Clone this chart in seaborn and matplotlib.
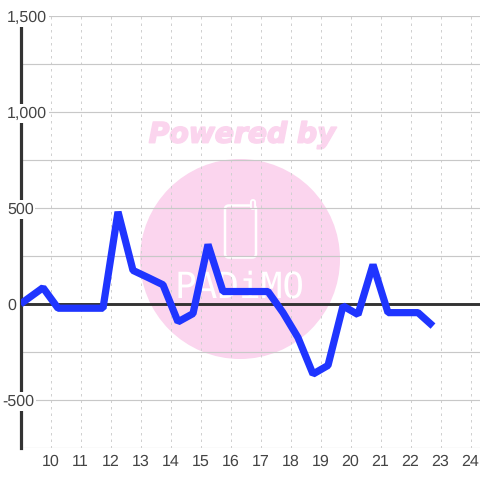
import matplotlib
matplotlib.use("Agg")
import matplotlib.pyplot as plt
import matplotlib.patheffects as pe
import pandas as pd
import seaborn as sns
from matplotlib.patches import Circle, FancyBboxPatch

# half hour readings
hours = [9.0, 9.75, 10.25, 10.75, 11.25, 11.75, 12.25, 12.75, 13.25, 13.75, 14.25,
         14.75, 15.25, 15.75, 16.25, 16.75, 17.25, 17.75, 18.25, 18.75, 19.25,
         19.75, 20.25, 20.75, 21.25, 21.75, 22.25, 22.75]
values = [0, 85, -22, -22, -22, -22, 480, 175, 138, 100, -93,
          -50, 310, 65, 65, 65, 65, -45, -175, -365, -320,
          -10, -55, 205, -45, -45, -45, -115]
x_ticks = list(range(10, 25))
y_grid = [-750, -500, -250, 0, 250, 500, 750, 1000, 1250, 1500]
y_ticks = [-500, 0, 500, 1000, 1500]
y_labels = ["-500", "0", "500", "1,000", "1,500"]

PINK = "#fbd5ee"
GRID = "#c8c8c8"
DARK = "#333333"
FONT = "Liberation Sans"

sns.set_theme(style="white")
plt.rcParams["text.hinting"] = "no_hinting"
plt.rcParams["text.hinting_factor"] = 1
W = 480.0

fig = plt.figure(figsize=(4.8, 4.8), dpi=100, facecolor="white")
ax = fig.add_axes([20.5 / W, (W - 448) / W, 459.5 / W, 432 / W])
ax.patch.set_alpha(0)
ax.set_zorder(1)

# watermark sits behind the axes, placed in pixels
fig.add_artist(Circle((240 / W, (W - 259) / W), 100 / W, transform=fig.transFigure,
                      facecolor=PINK, edgecolor="none", zorder=-1))
fig.text(241.5 / W, (W - 135) / W, "Powered by", color=PINK, fontsize=20.3, fontweight="bold",
         fontstyle="italic", family="DejaVu Sans", ha="center", va="center", zorder=-1,
         path_effects=[pe.withStroke(linewidth=1.2, foreground=PINK)])
fig.add_artist(FancyBboxPatch((225 / W, (W - 257.5) / W), 31 / W, 52 / W,
                              boxstyle="round,pad=0,rounding_size=0.008", transform=fig.transFigure,
                              facecolor="none", edgecolor="white", linewidth=1.8, zorder=-1))
fig.add_artist(plt.Line2D([253.2 / W, 253.2 / W], [(W - 207) / W, (W - 201.5) / W], color="white",
                          linewidth=4.4, solid_capstyle="round", zorder=-1))
fig.add_artist(plt.Line2D([253.2 / W, 253.2 / W], [(W - 208) / W, (W - 201.5) / W], color=PINK,
                          linewidth=1.6, solid_capstyle="round", zorder=-1))
fig.text(240 / W, (W - 287) / W, "PADiMO", color="white", fontsize=26, family="DejaVu Sans Mono",
         ha="center", va="center", zorder=-1)

df = pd.DataFrame({"hour": hours, "value": values})
ax.axhline(0, color=DARK, linewidth=2.1, zorder=2)
sns.lineplot(data=df, x="hour", y="value", ax=ax, color="#1f35ff", linewidth=5.2,
             errorbar=None, estimator=None, sort=False, zorder=3,
             solid_joinstyle="bevel", solid_capstyle="butt")

ax.set_xlim(9, 9 + 459.5 / 30)
ax.set_ylim(-750, 1500)
ax.set_xlabel("")
ax.set_ylabel("")
ax.set_xticks(x_ticks)
ax.set_xticklabels([str(t) for t in x_ticks], fontsize=11.4, color="#444444", family=FONT)
ax.set_yticks(y_grid)
ax.set_yticklabels([])
ax.tick_params(axis="both", length=0)
ax.tick_params(axis="x", pad=4.5)
ax.grid(True, axis="y", color=GRID, linewidth=0.85, linestyle="-")
ax.grid(True, axis="x", color="#d0d0d0", linewidth=0.72, linestyle=(0, (2.5, 4)))
ax.set_axisbelow(True)

for side in ["top", "right", "bottom"]:
    ax.spines[side].set_visible(False)
ax.spines["left"].set_color(DARK)
ax.spines["left"].set_linewidth(2.3)
ax.spines["left"].set_zorder(2.5)

# y labels sit on top of the axis line with a white box
for val, lab in zip(y_ticks, y_labels):
    off = -5 if val < 0 else 0
    ax.annotate(lab, xy=(0, val), xycoords=("axes fraction", "data"),
                xytext=(-13.5 + off, 0), textcoords="offset pixels", ha="left", va="center_baseline",
                fontsize=11.4, color="#444444", family=FONT, zorder=5, annotation_clip=False,
                bbox=dict(facecolor="white", edgecolor="none", pad=1.2))

fig.savefig("out.png", dpi=100)
